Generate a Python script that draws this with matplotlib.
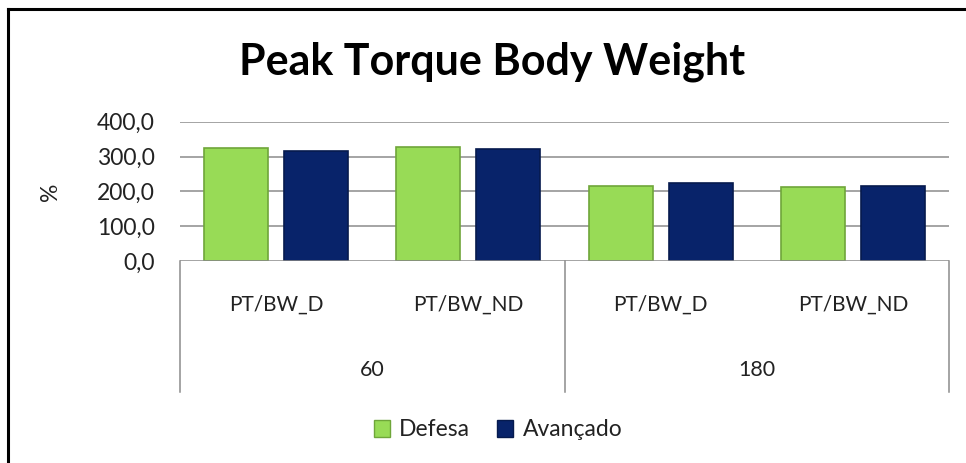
import matplotlib
matplotlib.use("Agg")
import matplotlib.pyplot as plt
from matplotlib.lines import Line2D
from matplotlib.patches import Patch
import numpy as np

plt.rcParams["font.family"] = ["Lato", "DejaVu Sans"]

# data
sub_labels = ["PT/BW_D", "PT/BW_ND", "PT/BW_D", "PT/BW_ND"]
group_labels = ["60", "180"]
defesa = [324, 328, 216, 213]
avancado = [317, 321, 225, 214]
yticks = [0, 100, 200, 300, 400]

GREEN = "#98DB56"
GREEN_EDGE = "#6FA63A"
NAVY = "#08236A"
NAVY_EDGE = "#061A4E"
GRID = "#8C8C8C"
TXT = "#222222"

W, H = 966, 463
fig = plt.figure(figsize=(W / 100, H / 100), dpi=100, facecolor="white")
ax = fig.add_axes([180 / W, 1 - 261 / H, (949 - 180) / W, (261 - 121.7) / H])

x = np.arange(len(sub_labels))
bw = 0.333
off = 0.208
ax.bar(x - off, defesa, width=bw, color=GREEN, edgecolor=GREEN_EDGE,
       linewidth=1.2, zorder=3, label="Defesa")
ax.bar(x + off, avancado, width=bw, color=NAVY, edgecolor=NAVY_EDGE,
       linewidth=1.2, zorder=3, label="Avançado")

ax.set_xlim(-0.5, len(sub_labels) - 0.5)
ax.set_ylim(0, 400)
ax.set_yticks(yticks)
ax.set_yticklabels([f"{v:.1f}".replace(".", ",") for v in yticks])
ax.tick_params(axis="y", length=0, pad=18, labelsize=16.5, colors=TXT)
ax.set_xticks([])
for s in ax.spines.values():
    s.set_visible(False)
for v in yticks[1:]:
    ax.axhline(v, color=GRID, linewidth=1.1, zorder=1)
ax.axhline(0, color=GRID, linewidth=1.1, zorder=4)

ax.set_ylabel("%", fontsize=16.5, color=TXT)
ax.yaxis.set_label_coords(-0.155, 0.5)

# multi-level category axis
trans = ax.get_xaxis_transform()
plot_h = 261 - 121.7
for xb in (-0.5, 1.5, 3.5):
    ax.plot([xb, xb], [0, -131 / plot_h], transform=trans, color=GRID,
            linewidth=1.1, clip_on=False)
for i, lab in enumerate(sub_labels):
    ax.text(i, -44 / plot_h, lab, transform=trans, ha="center", va="center",
            fontsize=15, color=TXT)
for g, lab in enumerate(group_labels):
    ax.text(2 * g + 0.5, -109 / plot_h, lab, transform=trans, ha="center",
            va="center", fontsize=15.5, color=TXT)

fig.text(492 / W, 1 - 62 / H, "Peak Torque Body Weight", ha="center",
         va="center", fontsize=31, fontweight="bold", color="black")

handles = [Patch(facecolor=GREEN, edgecolor=GREEN_EDGE, label="Defesa"),
           Patch(facecolor=NAVY, edgecolor=NAVY_EDGE, label="Avançado")]
fig.legend(handles=handles, loc="center", bbox_to_anchor=(498 / W, 1 - 430 / H),
           ncol=2, frameon=False, fontsize=16.5, handlelength=0.7,
           handleheight=0.7, handletextpad=0.4, columnspacing=1.2,
           labelcolor=TXT)

# outer frame (top and left edges only visible)
fig.add_artist(Line2D([8 / W, 1], [1 - 9 / H, 1 - 9 / H], color="black",
                      linewidth=2.2, transform=fig.transFigure))
fig.add_artist(Line2D([8 / W, 8 / W], [1 - 9 / H, 0], color="black",
                      linewidth=2.2, transform=fig.transFigure))

fig.savefig("out.png", dpi=100, facecolor="white")
